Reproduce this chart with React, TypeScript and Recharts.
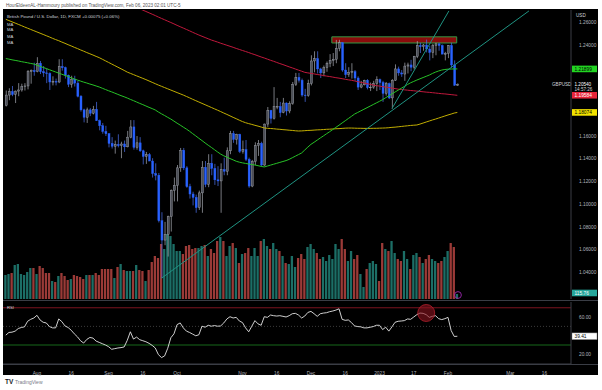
import React from 'react';
import {
  ComposedChart, Bar, Line, XAxis, YAxis, Cell,
  ReferenceLine, ReferenceArea, ReferenceDot,
} from 'recharts';

// GBPUSD daily, bar index 0 = 1 Aug 2022, first bar = 18 Jul 2022, last = 6 Feb 2023
const FIRST = -10;

const opens = [
  1.1870, 1.1960, 1.1990, 1.1965, 1.1995, 1.2005, 1.2035, 1.2040, 1.2165, 1.2175,
  1.2165, 1.2240, 1.2165, 1.2155, 1.2150, 1.2075, 1.2080, 1.2075, 1.2210, 1.2200,
  1.2135, 1.2055, 1.2100, 1.2065, 1.1950, 1.1830, 1.1765, 1.1830, 1.1800, 1.1835,
  1.1735, 1.1690, 1.1640, 1.1620, 1.1535, 1.1510, 1.1525, 1.1515, 1.1530, 1.1505,
  1.1590, 1.1680, 1.1500, 1.1540, 1.1470, 1.1420, 1.1435, 1.1380, 1.1270, 1.1255,
  1.0855, 1.0685, 1.0735, 1.0890, 1.1120, 1.1165, 1.1320, 1.1475, 1.1320, 1.1155,
  1.1090, 1.1060, 1.0970, 1.1100, 1.1325, 1.1175, 1.1360, 1.1315, 1.1215, 1.1205,
  1.1305, 1.1290, 1.1470, 1.1620, 1.1570, 1.1615, 1.1465, 1.1480, 1.1395, 1.1160,
  1.1375, 1.1515, 1.1535, 1.1345, 1.1705, 1.1825, 1.1755, 1.1860, 1.1860, 1.1805,
  1.1890, 1.1820, 1.1885, 1.2055, 1.2115, 1.2090, 1.1960, 1.1955, 1.2060, 1.2260,
  1.2280, 1.2190, 1.2155, 1.2200, 1.2240, 1.2265, 1.2275, 1.2370, 1.2420, 1.2180,
  1.2140, 1.2160, 1.2165, 1.2110, 1.2030, 1.2050, 1.2090, 1.2025, 1.2030, 1.2060,
  1.2095, 1.2070, 1.1975, 1.2060, 1.1935, 1.2090, 1.2190, 1.2155, 1.2145, 1.2215,
  1.2225, 1.2205, 1.2300, 1.2395, 1.2385, 1.2400, 1.2365, 1.2335, 1.2395, 1.2410,
  1.2395, 1.2320, 1.2325, 1.2395, 1.2225, 1.2047,
];

const highs = [
  1.2000, 1.2020, 1.2040, 1.2000, 1.2065, 1.2060, 1.2065, 1.2180, 1.2185, 1.2245,
  1.2293, 1.2260, 1.2215, 1.2195, 1.2160, 1.2125, 1.2105, 1.2275, 1.2275, 1.2210,
  1.2140, 1.2130, 1.2130, 1.2085, 1.1960, 1.1840, 1.1850, 1.1845, 1.1865, 1.1900,
  1.1745, 1.1715, 1.1690, 1.1625, 1.1590, 1.1560, 1.1615, 1.1550, 1.1560, 1.1645,
  1.1740, 1.1740, 1.1600, 1.1590, 1.1480, 1.1460, 1.1450, 1.1405, 1.1360, 1.1275,
  1.0930, 1.0845, 1.0900, 1.1130, 1.1235, 1.1345, 1.1495, 1.1495, 1.1335, 1.1180,
  1.1110, 1.1085, 1.1120, 1.1380, 1.1380, 1.1440, 1.1440, 1.1355, 1.1335, 1.1360,
  1.1410, 1.1500, 1.1645, 1.1645, 1.1620, 1.1620, 1.1560, 1.1565, 1.1410, 1.1390,
  1.1545, 1.1565, 1.1550, 1.1710, 1.1855, 1.1830, 1.2030, 1.1935, 1.1900, 1.1935,
  1.1895, 1.1905, 1.2075, 1.2155, 1.2155, 1.2105, 1.2015, 1.2095, 1.2310, 1.2345,
  1.2345, 1.2200, 1.2220, 1.2255, 1.2320, 1.2330, 1.2445, 1.2446, 1.2425, 1.2240,
  1.2205, 1.2240, 1.2180, 1.2125, 1.2085, 1.2095, 1.2100, 1.2070, 1.2085, 1.2125,
  1.2105, 1.2085, 1.2075, 1.2070, 1.2100, 1.2230, 1.2210, 1.2180, 1.2245, 1.2245,
  1.2270, 1.2305, 1.2435, 1.2420, 1.2410, 1.2448, 1.2395, 1.2410, 1.2420, 1.2420,
  1.2405, 1.2340, 1.2400, 1.2420, 1.2265, 1.2063,
];

const lows = [
  1.1860, 1.1915, 1.1950, 1.1890, 1.1950, 1.1990, 1.2000, 1.2010, 1.2060, 1.2130,
  1.2160, 1.2145, 1.2120, 1.2065, 1.2005, 1.2045, 1.2045, 1.2065, 1.2175, 1.2105,
  1.2030, 1.2025, 1.2035, 1.1940, 1.1815, 1.1720, 1.1715, 1.1775, 1.1790, 1.1735,
  1.1650, 1.1620, 1.1600, 1.1500, 1.1490, 1.1445, 1.1500, 1.1405, 1.1460, 1.1500,
  1.1580, 1.1480, 1.1480, 1.1460, 1.1350, 1.1355, 1.1380, 1.1235, 1.1210, 1.0840,
  1.0350, 1.0640, 1.0540, 1.0760, 1.1025, 1.1025, 1.1285, 1.1300, 1.1145, 1.1050,
  1.0990, 1.0925, 1.0950, 1.0925, 1.1150, 1.1150, 1.1255, 1.1170, 1.1160, 1.0925,
  1.1255, 1.1255, 1.1440, 1.1540, 1.1525, 1.1450, 1.1445, 1.1380, 1.1145, 1.1150,
  1.1345, 1.1425, 1.1335, 1.1335, 1.1680, 1.1710, 1.1745, 1.1835, 1.1765, 1.1800,
  1.1780, 1.1800, 1.1875, 1.2040, 1.2070, 1.1945, 1.1900, 1.1945, 1.2045, 1.2160,
  1.2150, 1.2110, 1.2125, 1.2165, 1.2205, 1.2215, 1.2240, 1.2345, 1.2165, 1.2110,
  1.2120, 1.2105, 1.2085, 1.2005, 1.2020, 1.2045, 1.2010, 1.1995, 1.2015, 1.1995,
  1.2005, 1.1900, 1.1955, 1.1925, 1.1841, 1.2085, 1.2130, 1.2120, 1.2085, 1.2150,
  1.2170, 1.2185, 1.2285, 1.2330, 1.2350, 1.2335, 1.2265, 1.2285, 1.2310, 1.2350,
  1.2320, 1.2265, 1.2285, 1.2200, 1.2040, 1.2040,
];

const closes = [
  1.1960, 1.1990, 1.1965, 1.1995, 1.2005, 1.2035, 1.2040, 1.2165, 1.2175, 1.2165,
  1.2240, 1.2165, 1.2155, 1.2150, 1.2075, 1.2080, 1.2075, 1.2210, 1.2200, 1.2135,
  1.2055, 1.2100, 1.2065, 1.1950, 1.1830, 1.1765, 1.1830, 1.1800, 1.1835, 1.1735,
  1.1690, 1.1640, 1.1620, 1.1535, 1.1510, 1.1525, 1.1515, 1.1530, 1.1505, 1.1590,
  1.1680, 1.1500, 1.1540, 1.1470, 1.1420, 1.1435, 1.1380, 1.1270, 1.1255, 1.0855,
  1.0685, 1.0735, 1.0890, 1.1120, 1.1165, 1.1320, 1.1475, 1.1320, 1.1155, 1.1090,
  1.1060, 1.0970, 1.1100, 1.1325, 1.1175, 1.1360, 1.1315, 1.1215, 1.1205, 1.1305,
  1.1290, 1.1470, 1.1620, 1.1570, 1.1615, 1.1465, 1.1480, 1.1395, 1.1160, 1.1375,
  1.1515, 1.1535, 1.1345, 1.1705, 1.1825, 1.1755, 1.1860, 1.1860, 1.1805, 1.1890,
  1.1820, 1.1885, 1.2055, 1.2115, 1.2090, 1.1960, 1.1955, 1.2060, 1.2260, 1.2280,
  1.2190, 1.2155, 1.2200, 1.2240, 1.2265, 1.2275, 1.2370, 1.2420, 1.2180, 1.2140,
  1.2160, 1.2165, 1.2110, 1.2030, 1.2050, 1.2090, 1.2025, 1.2030, 1.2060, 1.2095,
  1.2070, 1.1975, 1.2060, 1.1935, 1.2090, 1.2190, 1.2155, 1.2145, 1.2215, 1.2225,
  1.2205, 1.2300, 1.2395, 1.2385, 1.2400, 1.2365, 1.2335, 1.2395, 1.2410, 1.2395,
  1.2320, 1.2325, 1.2395, 1.2225, 1.2047, 1.2054,
];

const volumes = [
  552, 575, 598, 782, 805, 575, 552, 621, 713, 713,
  575, 759, 713, 598, 598, 414, 391, 529, 598, 529,
  437, 460, 552, 529, 506, 460, 552, 552, 552, 598,
  552, 690, 690, 690, 690, 483, 736, 805, 667, 644,
  644, 644, 782, 667, 644, 414, 667, 851, 989, 943,
  1265, 1150, 1495, 1449, 1265, 1104, 1104, 1035, 1219, 1242,
  1150, 1173, 1173, 1219, 1242, 989, 1150, 1058, 1334, 1426,
  1334, 989, 1219, 1288, 1173, 828, 1035, 1058, 1173, 989,
  1173, 989, 1334, 1380, 1219, 1150, 1288, 1150, 1104, 989,
  828, 805, 989, 736, 943, 1035, 920, 1196, 1265, 1150,
  1058, 920, 966, 874, 1012, 920, 1265, 1150, 1380, 1150,
  874, 1104, 920, 1012, 575, 276, 690, 828, 874, 805,
  414, 1288, 1150, 1104, 1334, 1058, 920, 874, 1104, 920,
  690, 1012, 1058, 966, 828, 920, 1012, 920, 874, 828,
  874, 966, 1104, 1288, 1196, 115.76,
];

const ma50 = [
  1.2281, 1.2276, 1.2270, 1.2265, 1.2260, 1.2254, 1.2249, 1.2244, 1.2238, 1.2233,
  1.2223, 1.2213, 1.2203, 1.2193, 1.2183, 1.2173, 1.2163, 1.2153, 1.2143, 1.2133,
  1.2123, 1.2112, 1.2102, 1.2092, 1.2083, 1.2074, 1.2066, 1.2057, 1.2049, 1.2040,
  1.2031, 1.2020, 1.2009, 1.1998, 1.1988, 1.1977, 1.1966, 1.1955, 1.1945, 1.1934,
  1.1922, 1.1911, 1.1899, 1.1887, 1.1876, 1.1864, 1.1852, 1.1841, 1.1829, 1.1811,
  1.1795, 1.1780, 1.1764, 1.1749, 1.1731, 1.1713, 1.1696, 1.1678, 1.1661, 1.1642,
  1.1621, 1.1601, 1.1580, 1.1560, 1.1539, 1.1519, 1.1500, 1.1480, 1.1460, 1.1441,
  1.1426, 1.1414, 1.1402, 1.1390, 1.1378, 1.1370, 1.1364, 1.1359, 1.1354, 1.1349,
  1.1345, 1.1339, 1.1333, 1.1328, 1.1336, 1.1344, 1.1352, 1.1360, 1.1368, 1.1376,
  1.1384, 1.1395, 1.1409, 1.1423, 1.1437, 1.1451, 1.1477, 1.1503, 1.1527, 1.1545,
  1.1564, 1.1583, 1.1601, 1.1620, 1.1638, 1.1657, 1.1676, 1.1695, 1.1715, 1.1734,
  1.1754, 1.1773, 1.1793, 1.1807, 1.1821, 1.1835, 1.1849, 1.1863, 1.1877, 1.1891,
  1.1905, 1.1920, 1.1937, 1.1953, 1.1970, 1.1987, 1.2003, 1.2020, 1.2036, 1.2053,
  1.2068, 1.2080, 1.2092, 1.2103, 1.2114, 1.2125, 1.2136, 1.2150, 1.2162, 1.2172,
  1.2180, 1.2185, 1.2188, 1.2189, 1.2190, 1.2190,
];

const ma100 = [
  1.2626, 1.2615, 1.2604, 1.2593, 1.2582, 1.2571, 1.2559, 1.2548, 1.2537, 1.2526,
  1.2515, 1.2504, 1.2493, 1.2482, 1.2471, 1.2459, 1.2448, 1.2438, 1.2426, 1.2415,
  1.2403, 1.2392, 1.2380, 1.2369, 1.2357, 1.2346, 1.2334, 1.2323, 1.2312, 1.2300,
  1.2289, 1.2275, 1.2261, 1.2247, 1.2233, 1.2219, 1.2205, 1.2191, 1.2177, 1.2162,
  1.2151, 1.2140, 1.2129, 1.2118, 1.2107, 1.2096, 1.2084, 1.2072, 1.2060, 1.2048,
  1.2037, 1.2026, 1.2015, 1.2004, 1.1993, 1.1982, 1.1971, 1.1960, 1.1948, 1.1936,
  1.1923, 1.1911, 1.1899, 1.1887, 1.1875, 1.1863, 1.1851, 1.1839, 1.1827, 1.1815,
  1.1802, 1.1790, 1.1777, 1.1764, 1.1752, 1.1739, 1.1727, 1.1717, 1.1709, 1.1702,
  1.1694, 1.1687, 1.1679, 1.1671, 1.1668, 1.1666, 1.1664, 1.1661, 1.1659, 1.1656,
  1.1654, 1.1651, 1.1649, 1.1646, 1.1644, 1.1645, 1.1647, 1.1649, 1.1650, 1.1652,
  1.1654, 1.1655, 1.1657, 1.1659, 1.1660, 1.1662, 1.1664, 1.1665, 1.1667, 1.1669,
  1.1670, 1.1670, 1.1669, 1.1668, 1.1668, 1.1667, 1.1667, 1.1667, 1.1668, 1.1668,
  1.1669, 1.1670, 1.1671, 1.1673, 1.1676, 1.1678, 1.1681, 1.1684, 1.1687, 1.1690,
  1.1693, 1.1695, 1.1697, 1.1705, 1.1714, 1.1723, 1.1732, 1.1741, 1.1749, 1.1758,
  1.1767, 1.1776, 1.1785, 1.1793, 1.1802, 1.1807,
];

const ma200 = [
  1.3190, 1.3180, 1.3170, 1.3160, 1.3150, 1.3140, 1.3130, 1.3120, 1.3110, 1.3100,
  1.3088, 1.3077, 1.3066, 1.3054, 1.3043, 1.3032, 1.3021, 1.3010, 1.2998, 1.2987,
  1.2976, 1.2965, 1.2954, 1.2942, 1.2931, 1.2920, 1.2909, 1.2898, 1.2886, 1.2875,
  1.2864, 1.2853, 1.2842, 1.2830, 1.2819, 1.2808, 1.2797, 1.2786, 1.2774, 1.2763,
  1.2752, 1.2741, 1.2730, 1.2718, 1.2707, 1.2695, 1.2683, 1.2671, 1.2659, 1.2646,
  1.2634, 1.2622, 1.2610, 1.2598, 1.2586, 1.2573, 1.2561, 1.2549, 1.2537, 1.2525,
  1.2512, 1.2500, 1.2488, 1.2477, 1.2466, 1.2455, 1.2444, 1.2435, 1.2426, 1.2416,
  1.2407, 1.2398, 1.2389, 1.2380, 1.2370, 1.2361, 1.2352, 1.2343, 1.2334, 1.2324,
  1.2315, 1.2305, 1.2295, 1.2286, 1.2276, 1.2266, 1.2257, 1.2247, 1.2237, 1.2228,
  1.2218, 1.2208, 1.2199, 1.2189, 1.2179, 1.2170, 1.2160, 1.2155, 1.2151, 1.2146,
  1.2141, 1.2137, 1.2132, 1.2127, 1.2123, 1.2118, 1.2113, 1.2109, 1.2104, 1.2099,
  1.2094, 1.2090, 1.2084, 1.2078, 1.2072, 1.2066, 1.2060, 1.2054, 1.2048, 1.2043,
  1.2039, 1.2034, 1.2030, 1.2026, 1.2021, 1.2017, 1.2012, 1.2009, 1.2006, 1.2003,
  1.2000, 1.1998, 1.1995, 1.1992, 1.1989, 1.1986, 1.1984, 1.1981, 1.1978, 1.1975,
  1.1972, 1.1970, 1.1967, 1.1964, 1.1961, 1.1958,
];

const rsi = [
  40.6, 43.5, 43.8, 44.9, 47.7, 48.8, 49.5, 55.5, 57.6, 59.0,
  61.9, 56.9, 54.4, 53.7, 49.8, 48.4, 48.4, 58.0, 55.1, 50.5,
  48.8, 45.9, 42.0, 38.8, 34.6, 32.1, 36.0, 38.1, 37.4, 34.2,
  32.8, 31.4, 30.0, 28.2, 25.4, 26.1, 26.8, 27.2, 27.9, 35.0,
  44.2, 36.4, 38.5, 35.7, 34.6, 33.5, 31.8, 29.6, 26.8, 19.7,
  16.5, 18.3, 26.5, 37.8, 42.0, 51.9, 53.7, 48.4, 44.9, 43.5,
  41.7, 39.9, 41.0, 50.2, 49.1, 51.2, 50.2, 50.9, 50.2, 50.5,
  53.7, 58.0, 60.4, 59.0, 59.7, 55.8, 54.1, 48.4, 44.2, 50.2,
  56.2, 52.7, 51.2, 60.4, 59.7, 62.2, 61.5, 61.1, 61.5, 60.8,
  60.1, 61.5, 63.6, 64.0, 62.2, 59.0, 61.1, 65.0, 66.1, 63.6,
  60.8, 63.6, 64.3, 64.7, 65.8, 66.5, 67.5, 68.9, 57.6, 56.5,
  56.9, 54.1, 50.5, 49.8, 49.5, 48.4, 48.4, 49.1, 49.8, 51.2,
  51.2, 46.6, 49.1, 44.9, 49.5, 54.4, 55.5, 55.8, 56.2, 58.0,
  57.6, 60.1, 62.6, 64.3, 64.0, 62.6, 59.7, 60.8, 61.5, 58.3,
  57.3, 58.3, 59.7, 45.6, 39.2, 39.4,
];

const timeTicks = [0, 11, 23, 34, 45, 66, 77, 88, 99, 110, 121, 132, 152, 163];
const timeLabels = ['Aug', '16', 'Sep', '16', 'Oct', 'Nov', '16', 'Dec', '16', '2023', '17', 'Feb', 'Mar', '16'];
// 1.18 / 1.20 / 1.22 sit under the price tags, so the scale hides them
const priceTicks = [1.04, 1.06, 1.08, 1.10, 1.12, 1.14, 1.16, 1.24, 1.26];
const rsiTicks = [20, 60];

const data = closes.map((c, k) => ({
  i: FIRST + k,
  o: opens[k],
  h: highs[k],
  l: lows[k],
  c,
  v: volumes[k],
  ma50: ma50[k],
  ma100: ma100[k],
  ma200: ma200[k],
  rsi: rsi[k],
}));

const X_DOMAIN: [number, number] = [-10.9, 171.5];
const PRICE_DOMAIN: [number, number] = [1.0167, 1.2708];
const VOL_DOMAIN: [number, number] = [0, 6650];
const RSI_DOMAIN: [number, number] = [9.6, 76.2];

const FONT = '"Liberation Sans", Arial, sans-serif';
const AXIS_TEXT = '#b2b5be';
const UP = '#4c4f58';
const UP_EDGE = '#a9acb5';
const DOWN = '#2962ff';

const Candle = (props: any) => {
  const { x, y, width, height, payload } = props;
  if (!payload) return null;
  const { o, h, l, c } = payload;
  const top = Math.min(y, y + height);
  const full = Math.abs(height);
  const span = h - l || 1e-9;
  const yOf = (p: number) => top + ((h - p) / span) * full;
  const bTop = yOf(Math.max(o, c));
  const bBot = yOf(Math.min(o, c));
  const cx = x + width / 2;
  const up = c >= o;
  return (
    <g>
      <line x1={cx} x2={cx} y1={top} y2={top + full} stroke={up ? UP_EDGE : '#4d73f0'} strokeWidth={0.7} />
      <rect
        x={x}
        y={bTop}
        width={width}
        height={Math.max(bBot - bTop, 0.7)}
        fill={up ? UP : DOWN}
        stroke={up ? UP_EDGE : DOWN}
        strokeWidth={0.4}
      />
    </g>
  );
};

const AxisTag = (props: any) => {
  const { viewBox, text, bg, fg, border } = props;
  if (!viewBox) return null;
  const x = viewBox.x + viewBox.width + 1;
  const y = viewBox.y;
  return (
    <g>
      <rect x={x} y={y - 3.3} width={25} height={6.6} fill={bg} stroke={border || 'none'} strokeWidth={0.5} />
      <text x={x + 2.5} y={y + 1.7} fill={fg} fontSize={4.8} fontFamily={FONT}>{text}</text>
    </g>
  );
};

const LastPrice = (props: any) => {
  const { viewBox } = props;
  if (!viewBox) return null;
  const x = viewBox.x + viewBox.width;
  const y = viewBox.y;
  return (
    <g fontFamily={FONT} fontSize={4.6}>
      <text x={x - 19} y={y + 1.6} fill="#d1d4dc">GBPUSD</text>
      <text x={x + 3.5} y={y + 1.6} fill="#ffffff">1.20540</text>
      <text x={x + 3.5} y={y + 7} fill="#d1d4dc">14:57:26</text>
    </g>
  );
};

export default function App() {
  const margin = { top: 10, right: 0, bottom: 1, left: 3 };
  return (
    <div style={{ position: 'fixed', left: 0, top: 0, width: 602, height: 390, background: '#ffffff', overflow: 'hidden' }}>
      <div style={{ position: 'absolute', left: 3, top: 9, width: 595, height: 366, background: '#000000' }} />

      {/* volume layer */}
      <div style={{ position: 'absolute', left: 0, top: 0 }}>
        <ComposedChart width={602} height={300} data={data} margin={{ ...margin, right: 31 }}>
          <XAxis dataKey="i" type="number" domain={X_DOMAIN} allowDataOverflow hide />
          <YAxis yAxisId="v" domain={VOL_DOMAIN} allowDataOverflow hide />
          <Bar yAxisId="v" dataKey="v" barSize={2.3} isAnimationActive={false}>
            {data.map((d, k) => (
              <Cell key={`v-${k}`} fill={d.c >= d.o ? '#1c6e66' : '#9a3a37'} />
            ))}
          </Bar>
        </ComposedChart>
      </div>

      {/* price layer */}
      <div style={{ position: 'absolute', left: 0, top: 0 }}>
        <ComposedChart width={602} height={300} data={data} margin={margin}>
          <XAxis dataKey="i" type="number" domain={X_DOMAIN} allowDataOverflow hide />
          <YAxis
            yAxisId="p"
            orientation="right"
            width={31}
            domain={PRICE_DOMAIN}
            allowDataOverflow
            ticks={priceTicks}
            tickFormatter={(v: number) => v.toFixed(5)}
            tick={{ fill: AXIS_TEXT, fontSize: 4.8, fontFamily: FONT }}
            tickLine={false}
            axisLine={{ stroke: '#3a3d45' }}
          />
          <ReferenceArea
            yAxisId="p"
            x1={94.7}
            x2={134.8}
            y1={1.2418}
            y2={1.2472}
            fill="#8a0b0b"
            fillOpacity={1}
            stroke="#2f9a45"
            strokeWidth={1}
          />
          <Bar yAxisId="p" dataKey={(d: any) => [d.l, d.h]} barSize={2} shape={<Candle />} isAnimationActive={false} />
          <Line yAxisId="p" dataKey="ma100" stroke="#c2ae00" strokeWidth={1} dot={false} isAnimationActive={false} />
          <Line yAxisId="p" dataKey="ma200" stroke="#c0183c" strokeWidth={1} dot={false} isAnimationActive={false} />
          <Line yAxisId="p" dataKey="ma50" stroke="#27c227" strokeWidth={1} dot={false} isAnimationActive={false} />
          <ReferenceLine
            yAxisId="p"
            segment={[{ x: 40, y: 1.035 }, { x: 158, y: 1.27 }]}
            stroke="#1f9382"
            strokeWidth={1}
          />
          <ReferenceLine
            yAxisId="p"
            segment={[{ x: 114, y: 1.1841 }, { x: 132.3, y: 1.27 }]}
            stroke="#1f9382"
            strokeWidth={1}
          />
          <ReferenceDot yAxisId="p" x={135.2} y={1.0202} r={3.4} fill="none" stroke="#9c27b0" strokeWidth={0.9} />
          <ReferenceLine yAxisId="p" y={1.21899} stroke="none" label={<AxisTag text="1.21899" bg="#22d422" fg="#000000" />} />
          <ReferenceLine yAxisId="p" y={1.2054} stroke="none" label={<LastPrice />} />
          <ReferenceLine yAxisId="p" y={1.19584} stroke="none" label={<AxisTag text="1.19584" bg="#e8243a" fg="#ffffff" />} />
          <ReferenceLine yAxisId="p" y={1.18074} stroke="none" label={<AxisTag text="1.18074" bg="#f2e200" fg="#000000" />} />
          <ReferenceLine yAxisId="p" y={1.022} stroke="none" label={<AxisTag text="115.76" bg="#26a69a" fg="#ffffff" />} />
        </ComposedChart>
      </div>

      {/* RSI pane + time axis */}
      <div style={{ position: 'absolute', left: 0, top: 301 }}>
        <ComposedChart width={602} height={75} data={data} margin={{ top: 1, right: 0, bottom: 0, left: 3 }}>
          <XAxis
            dataKey="i"
            type="number"
            domain={X_DOMAIN}
            allowDataOverflow
            ticks={timeTicks}
            interval={0}
            tickFormatter={(v: number) => timeLabels[timeTicks.indexOf(v)]}
            tick={{ fill: AXIS_TEXT, fontSize: 4.8, fontFamily: FONT }}
            tickLine={false}
            axisLine={{ stroke: '#3a3d45' }}
            height={12}
          />
          <YAxis
            yAxisId="r"
            orientation="right"
            width={31}
            domain={RSI_DOMAIN}
            allowDataOverflow
            ticks={rsiTicks}
            tickFormatter={(v: number) => v.toFixed(2)}
            tick={{ fill: AXIS_TEXT, fontSize: 4.8, fontFamily: FONT }}
            tickLine={false}
            axisLine={{ stroke: '#3a3d45' }}
          />
          <ReferenceLine yAxisId="r" y={70} stroke="#7d1420" strokeWidth={1} />
          <ReferenceLine yAxisId="r" y={50} stroke="#555555" strokeWidth={0.7} strokeDasharray="1 2" />
          <ReferenceLine yAxisId="r" y={30} stroke="#17681a" strokeWidth={1} />
          <ReferenceDot yAxisId="r" x={125} y={64.4} r={8.5} fill="#8c1420" fillOpacity={0.6} stroke="#b3202c" strokeWidth={0.8} />
          <Line yAxisId="r" dataKey="rsi" stroke="#e4e4e4" strokeWidth={0.9} dot={false} isAnimationActive={false} />
          <ReferenceLine yAxisId="r" y={39.41} stroke="none" label={<AxisTag text="39.41" bg="#ffffff" fg="#000000" border="#888888" />} />
        </ComposedChart>
      </div>

      {/* pane separators */}
      <div style={{ position: 'absolute', left: 3, top: 300, width: 595, height: 1, background: '#3a3d45' }} />
      <div style={{ position: 'absolute', left: 3, top: 364, width: 595, height: 1, background: '#3a3d45' }} />

      {/* static texts */}
      <svg width={602} height={390} style={{ position: 'absolute', left: 0, top: 0, pointerEvents: 'none' }} fontFamily={FONT}>
        <text x={6} y={6.6} fontSize={4.6} fill="#555555">
          HourEldeenAL-Hammoury published on TradingView.com, Feb 06, 2023 02:01 UTC-5
        </text>
        <text x={7} y={17.5} fontSize={4.4} fill="#d1d4dc">
          British Pound / U.S. Dollar, 1D, FXCM  +0.00075 (+0.06%)
        </text>
        <text x={7} y={25.5} fontSize={4.2} fill="#d1d4dc">MA</text>
        <text x={7} y={31.2} fontSize={4.2} fill="#d1d4dc">MA</text>
        <text x={7} y={37.6} fontSize={4.2} fill="#d1d4dc">MA</text>
        <text x={7} y={44.2} fontSize={4.2} fill="#d1d4dc">MA</text>
        <text x={576} y={17} fontSize={4.6} fill="#d1d4dc">USD</text>
        <text x={7} y={308.5} fontSize={4.2} fill="#d1d4dc">RSI</text>
        <text x={5} y={384} fontSize={6.5} fontWeight="bold" fill="#131722">TV</text>
        <text x={15} y={384} fontSize={5} fill="#787b86">TradingView</text>
      </svg>
    </div>
  );
}
